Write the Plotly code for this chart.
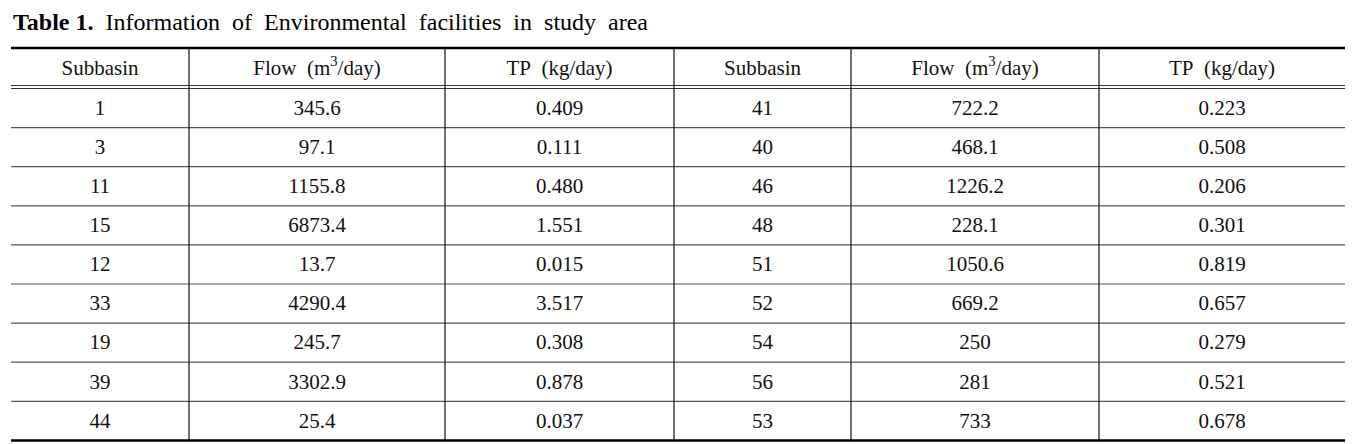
import plotly.graph_objects as go

# ---- data ----
title_bold = "Table 1."
title_rest = "Information of Environmental facilities in study area"
headers = ["Subbasin", "Flow (m<sup>3</sup>/day)", "TP (kg/day)",
           "Subbasin", "Flow (m<sup>3</sup>/day)", "TP (kg/day)"]

subbasin_left = [1, 3, 11, 15, 12, 33, 19, 39, 44]
flow_left = [345.6, 97.1, 1155.8, 6873.4, 13.7, 4290.4, 245.7, 3302.9, 25.4]
tp_left = [0.409, 0.111, 0.480, 1.551, 0.015, 3.517, 0.308, 0.878, 0.037]

subbasin_right = [41, 40, 46, 48, 51, 52, 54, 56, 53]
flow_right = [722.2, 468.1, 1226.2, 228.1, 1050.6, 669.2, 250, 281, 733]
tp_right = [0.223, 0.508, 0.206, 0.301, 0.819, 0.657, 0.279, 0.521, 0.678]

# ---- layout / style constants ----
W, H = 1365, 444
PAGE_MARGIN = 8  # default html body margin; axes are set so coordinates match page pixels
col_edges = [11, 189, 445, 674, 851, 1099, 1345]
top_y = 48
header_bottom = 86
data_top = 88.5
row_h = 39.1
FONT = "Liberation Serif, Times New Roman, serif"
TXT = "#111111"

def fmt_flow(v):
    return str(int(v)) if float(v).is_integer() else f"{v:.1f}"

columns = [
    [str(v) for v in subbasin_left],
    [fmt_flow(v) for v in flow_left],
    [f"{v:.3f}" for v in tp_left],
    [str(v) for v in subbasin_right],
    [fmt_flow(v) for v in flow_right],
    [f"{v:.3f}" for v in tp_right],
]

n_rows = len(subbasin_left)
col_centers = [(col_edges[i] + col_edges[i + 1]) / 2 for i in range(len(headers))]
row_centers = [data_top + row_h * (r + 0.5) + 1.5 for r in range(n_rows)]
bottom_y = data_top + row_h * n_rows

fig = go.Figure()

# header text
fig.add_trace(go.Scatter(
    x=col_centers, y=[(top_y + header_bottom) / 2 + 2.5] * len(headers),
    text=[h.replace(" ", "\u00a0\u00a0") for h in headers],
    mode="text", textposition="middle center",
    textfont=dict(family=FONT, size=21, color=TXT),
    hoverinfo="skip", showlegend=False))

# body text
xs, ys, ts = [], [], []
for ci, col in enumerate(columns):
    for ri, val in enumerate(col):
        xs.append(col_centers[ci]); ys.append(row_centers[ri]); ts.append(val)
fig.add_trace(go.Scatter(
    x=xs, y=ys, text=ts, mode="text", textposition="middle center",
    textfont=dict(family=FONT, size=21, color=TXT),
    hoverinfo="skip", showlegend=False))

shapes = []
L, R = col_edges[0], col_edges[-1]
# thick top & bottom rules
shapes.append(dict(type="line", x0=L, x1=R, y0=top_y, y1=top_y, line=dict(color="#000", width=2.5)))
shapes.append(dict(type="line", x0=L, x1=R, y0=bottom_y, y1=bottom_y, line=dict(color="#000", width=2.5)))
# double rule under header
for yy in (header_bottom - 0.5, header_bottom + 2.5):
    shapes.append(dict(type="line", x0=L, x1=R, y0=yy, y1=yy, line=dict(color="#333", width=1.2)))
# row separators
for r in range(1, n_rows):
    yy = data_top + row_h * r
    shapes.append(dict(type="line", x0=L, x1=R, y0=yy, y1=yy, line=dict(color="#555", width=1.2)))
# vertical dividers
for xe in col_edges[1:-1]:
    shapes.append(dict(type="line", x0=xe, x1=xe, y0=top_y, y1=bottom_y, line=dict(color="#111", width=1.2)))
for s in shapes:
    s["xref"] = "x"; s["yref"] = "y"; s["layer"] = "above"

title_text = f"<b>{title_bold}</b>\u00a0\u00a0" + title_rest.replace(" ", "\u00a0\u00a0")

fig.update_layout(
    width=W, height=H,
    margin=dict(l=0, r=0, t=0, b=0),
    paper_bgcolor="white", plot_bgcolor="white",
    xaxis=dict(range=[PAGE_MARGIN, W + PAGE_MARGIN], visible=False, fixedrange=True),
    yaxis=dict(range=[H + PAGE_MARGIN, PAGE_MARGIN], visible=False, fixedrange=True),
    shapes=shapes,
    annotations=[dict(
        x=11, y=22, xref="x", yref="y", xanchor="left", yanchor="middle",
        text=title_text, showarrow=False,
        font=dict(family=FONT, size=24, color="#000"))],
)

fig.write_html("out.html")
